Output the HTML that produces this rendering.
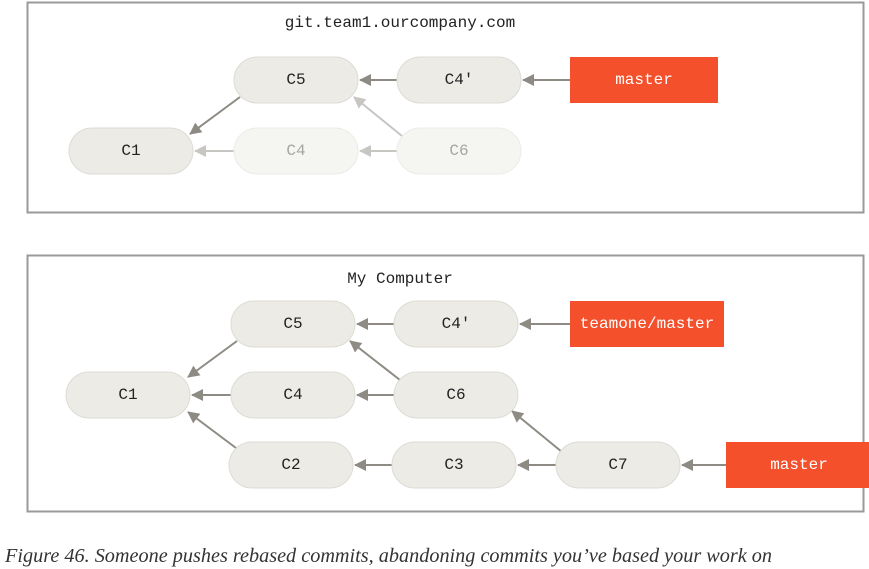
<!DOCTYPE html>
<html><head><meta charset="utf-8"><style>
html,body{margin:0;padding:0;background:#fff;width:869px;height:569px;overflow:hidden}
svg{display:block}
.n{fill:#ecebe5;stroke:#dcdbd5;stroke-width:1}
.f{fill:#f5f5f2;stroke:#ecebe7;stroke-width:1}
.t{font-family:"Liberation Mono",monospace;font-size:16px;fill:#222;text-anchor:middle;dominant-baseline:central}
.tf{fill:#a5a5a2}
.tw{fill:#fff}
.a{stroke:#8e8a84;stroke-width:2;fill:none}
.af{stroke:#c8c6c2;stroke-width:2;fill:none}
</style></head><body>
<svg width="869" height="569" viewBox="0 0 869 569">
<defs>
<marker id="m" markerWidth="12" markerHeight="12" refX="11" refY="6" orient="auto" markerUnits="userSpaceOnUse" viewBox="0 0 12 12"><path d="M0,0 L12,6 L0,12 z" fill="#8e8a84"/></marker>
<marker id="mf" markerWidth="12" markerHeight="12" refX="11" refY="6" orient="auto" markerUnits="userSpaceOnUse" viewBox="0 0 12 12"><path d="M0,0 L12,6 L0,12 z" fill="#c8c6c2"/></marker>
</defs>
<rect x="27.5" y="2.5" width="836" height="210" fill="none" stroke="#9a9a9a" stroke-width="2"/>
<text x="400" y="23" class="t">git.team1.ourcompany.com</text>
<line x1="240" y1="97" x2="190" y2="134" class="a" marker-end="url(#m)"/>
<line x1="397" y1="80" x2="360" y2="80" class="a" marker-end="url(#m)"/>
<line x1="570" y1="80" x2="523" y2="80" class="a" marker-end="url(#m)"/>
<line x1="234" y1="151" x2="195" y2="151" class="af" marker-end="url(#mf)"/>
<line x1="397" y1="151" x2="360" y2="151" class="af" marker-end="url(#mf)"/>
<line x1="402" y1="136" x2="354" y2="97" class="af" marker-end="url(#mf)"/>
<rect x="234" y="57" width="124" height="46" rx="23" class="n"/><text x="296" y="80" class="t">C5</text>
<rect x="397" y="57" width="124" height="46" rx="23" class="n"/><text x="459" y="80" class="t">C4'</text>
<rect x="570" y="57" width="148" height="46" fill="#f4502c"/><text x="644" y="80" class="t tw">master</text>
<rect x="69" y="128" width="124" height="46" rx="23" class="n"/><text x="131" y="151" class="t">C1</text>
<rect x="234" y="128" width="124" height="46" rx="23" class="f"/><text x="296" y="151" class="t tf">C4</text>
<rect x="397" y="128" width="124" height="46" rx="23" class="f"/><text x="459" y="151" class="t tf">C6</text>

<rect x="27.5" y="255.5" width="836" height="256" fill="none" stroke="#9a9a9a" stroke-width="2"/>
<text x="400" y="279" class="t">My Computer</text>
<line x1="237" y1="341" x2="188" y2="377" class="a" marker-end="url(#m)"/>
<line x1="394" y1="324" x2="357" y2="324" class="a" marker-end="url(#m)"/>
<line x1="570" y1="324" x2="520" y2="324" class="a" marker-end="url(#m)"/>
<line x1="231" y1="395" x2="192" y2="395" class="a" marker-end="url(#m)"/>
<line x1="394" y1="395" x2="357" y2="395" class="a" marker-end="url(#m)"/>
<line x1="400" y1="380" x2="350" y2="341" class="a" marker-end="url(#m)"/>
<line x1="236" y1="448" x2="188" y2="412" class="a" marker-end="url(#m)"/>
<line x1="392" y1="465" x2="355" y2="465" class="a" marker-end="url(#m)"/>
<line x1="556" y1="465" x2="518" y2="465" class="a" marker-end="url(#m)"/>
<line x1="562" y1="452" x2="512" y2="411" class="a" marker-end="url(#m)"/>
<line x1="726" y1="465" x2="682" y2="465" class="a" marker-end="url(#m)"/>
<rect x="231" y="301" width="124" height="46" rx="23" class="n"/><text x="293" y="324" class="t">C5</text>
<rect x="394" y="301" width="124" height="46" rx="23" class="n"/><text x="456" y="324" class="t">C4'</text>
<rect x="570" y="301" width="154" height="46" fill="#f4502c"/><text x="647" y="324" class="t tw">teamone/master</text>
<rect x="66" y="372" width="124" height="46" rx="23" class="n"/><text x="128" y="395" class="t">C1</text>
<rect x="231" y="372" width="124" height="46" rx="23" class="n"/><text x="293" y="395" class="t">C4</text>
<rect x="394" y="372" width="124" height="46" rx="23" class="n"/><text x="456" y="395" class="t">C6</text>
<rect x="229" y="442" width="124" height="46" rx="23" class="n"/><text x="291" y="465" class="t">C2</text>
<rect x="392" y="442" width="124" height="46" rx="23" class="n"/><text x="454" y="465" class="t">C3</text>
<rect x="556" y="442" width="124" height="46" rx="23" class="n"/><text x="618" y="465" class="t">C7</text>
<rect x="726" y="442" width="143" height="46" fill="#f4502c"/><text x="799" y="465" class="t tw">master</text>
<text x="5" y="562" font-family="Liberation Serif,serif" font-style="italic" font-size="20" fill="#333" textLength="767" lengthAdjust="spacingAndGlyphs">Figure 46. Someone pushes rebased commits, abandoning commits you’ve based your work on</text>
</svg>
</body></html>
